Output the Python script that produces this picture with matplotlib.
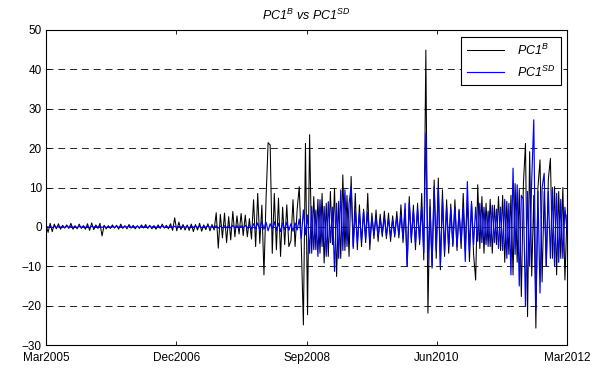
import numpy as np
import matplotlib
matplotlib.use("Agg")
import matplotlib.pyplot as plt
import matplotlib.dates as mdates
from datetime import datetime

# ---- data (~10-day resolution) ----
start_date = datetime(2005, 3, 1)
end_date = datetime(2012, 3, 1)

tick_dates = [datetime(2005, 3, 1), datetime(2006, 12, 1), datetime(2008, 9, 1),
              datetime(2010, 6, 1), datetime(2012, 3, 1)]
tick_labels = ['Mar2005', 'Dec2006', 'Sep2008', 'Jun2010', 'Mar2012']
y_ticks = [-30, -20, -10, 0, 10, 20, 30, 40, 50]

pc1_b = [
    0.6, -1.4, 0.9, -1.2, 0.7, -0.5, 0.8, -0.6, 0.4, -0.3,
    0.5, -0.4, 0.9, -0.6, 0.3, -0.5, 0.7, -0.4, 0.3, -0.6,
    0.8, -0.9, 1.0, -0.7, 0.5, -0.4, 0.9, -2.3, 0.4, -0.5,
    0.3, -0.4, 0.5, -0.3, 0.4, -0.6, 0.7, -0.4, 0.3, -0.5,
    0.6, -0.3, 0.4, -0.5, 0.3, -0.4, 0.5, -0.3, 0.6, -0.4,
    0.4, -0.5, 0.3, -0.6, 0.5, -0.4, 0.7, -0.3, 0.4, -0.5,
    0.8, -0.9, 2.3, -1.0, 1.2, -0.7, 0.6, -0.8, 0.5, -0.9,
    0.7, -1.2, 0.6, -0.8, 0.9, -1.1, 0.5, -0.7, 0.8, -1.0,
    0.6, -0.8, 3.6, -5.4, 3.2, -2.8, 3.5, -4.0, 2.6, -3.3,
    3.9, -2.5, 2.8, -1.8, 3.4, -2.2, 3.0, -2.5, 2.1, -3.1,
    6.9, -5.0, 8.5, -4.2, 5.5, -12.2, 6.9, 21.4, 20.8, -6.7,
    8.5, -5.8, 7.3, -7.5, 5.0, -4.5, 5.6, -5.0, -3.5, 6.9,
    -5.0, 4.5, 10.2, -4.8, -24.9, 21.2, -22.3, 23.4, -6.7, 7.7,
    -5.8, 7.0, -6.7, 8.5, -9.2, 6.0, -7.5, 9.0, -4.5, 9.8,
    -12.6, 6.5, -8.0, 13.2, -6.0, 8.0, -7.5, 12.8, -5.0, 8.5,
    -5.8, 5.6, -5.0, 4.5, -4.0, 8.5, -5.8, 3.5, -3.0, 4.3,
    -3.7, 3.2, -2.5, 4.0, -3.0, 3.5, -3.7, 2.8, -2.6, 3.9,
    -2.8, 5.6, -4.0, 4.5, -10.0, 7.7, -4.0, 5.5, -5.8, 6.0,
    -4.5, 8.5, -8.4, 44.9, -21.9, 7.0, -10.5, 11.9, -8.0, 12.4,
    -10.9, 9.4, -7.5, 6.9, -6.7, 5.8, -5.0, 6.9, -6.0, 4.5,
    -5.5, 8.5, -6.0, 7.0, -8.8, 6.5, -7.0, -13.5, 10.7, -5.5,
    7.7, -6.7, 6.0, -5.0, 7.0, -6.7, 5.5, -4.5, 7.7, -6.0,
    8.0, -9.0, 6.5, -7.0, 8.0, -12.2, 11.0, -9.0, 9.5, -17.7,
    11.0, 21.2, -22.8, 19.1, -12.5, 8.0, -25.7, 10.0, 17.0, -14.0,
    9.0, -10.0, 12.0, 17.4, -8.0, 10.2, -12.2, 9.0, -8.0, 10.0,
    -13.5, 3.0,
]

pc1_sd = [
    0.2, -0.1, 0.15, -0.2, 0.1, -0.15, 0.2, -0.1, 0.1, -0.2,
    0.15, -0.1, 0.2, -0.15, 0.1, -0.2, 0.1, -0.1, 0.2, -0.15,
    0.1, -0.2, 0.15, -0.1, 0.2, -0.1, 0.1, -0.15, 0.2, -0.2,
    0.1, -0.1, 0.15, -0.2, 0.2, -0.1, 0.1, -0.15, 0.15, -0.1,
    0.2, -0.2, 0.1, -0.1, 0.15, -0.15, 0.2, -0.1, 0.1, -0.2,
    0.15, -0.1, 0.2, -0.15, 0.1, -0.1, 0.2, -0.2, 0.1, -0.15,
    0.2, -0.1, 0.15, -0.2, 0.1, -0.15, 0.2, -0.1, 0.1, -0.2,
    0.15, -0.1, 0.2, -0.15, 0.1, -0.2, 0.1, -0.1, 0.2, -0.15,
    0.2, -0.2, 0.3, -0.3, 0.2, -0.3, 0.3, -0.2, 0.3, -0.3,
    0.4, -0.3, 0.3, -0.4, 0.3, -0.3, 0.4, -0.3, 0.5, -0.6,
    0.8, -0.5, 1.0, -0.8, 1.4, -0.6, 1.2, -1.0, 0.8, -0.5,
    1.3, -1.0, 0.9, -1.2, 1.0, -0.7, 1.2, -0.9, 0.8, -1.1,
    1.0, -0.8, 2.0, -3.0, 4.3, -2.0, 3.0, -6.7, 5.2, -5.8,
    4.3, -7.5, 6.9, -5.0, 5.2, -7.5, 6.4, -4.0, 5.0, -11.3,
    6.0, -8.0, 9.4, -6.0, 9.4, -5.0, 6.0, 10.2, -5.5, 4.0,
    -4.0, 3.5, -3.5, 4.0, -3.0, 3.8, -4.0, 2.5, -2.0, 2.5,
    -2.5, 2.0, -1.8, 2.5, -2.2, 2.0, -2.5, 1.8, -2.0, 2.5,
    -2.0, 3.0, -3.0, 6.0, -10.0, 6.0, -3.0, 4.0, -4.0, 4.5,
    -3.5, 5.0, -6.5, 23.8, -9.0, 5.0, -10.0, 10.2, -6.0, 9.8,
    -10.0, 7.0, -6.5, 5.0, -5.0, 4.5, -4.5, 5.0, -5.0, 4.0,
    -4.0, 5.0, -8.8, 11.5, -6.0, 6.0, -4.5, 5.0, -3.7, 6.0,
    -4.0, 5.0, -4.5, 4.0, -5.0, 5.5, -4.0, 4.5, -5.5, 5.0,
    -6.0, 7.0, -8.0, 6.0, -12.2, 14.9, -7.0, 10.7, -15.0, 8.0,
    7.0, -20.2, 9.0, -10.0, 12.0, 27.2, -21.0, 9.0, -16.8, 10.0,
    13.6, -10.0, 9.0, -8.0, 10.0, -10.0, 8.5, -9.0, 7.0, -8.0,
    5.0, -1.0,
]

# ---- style ----
plt.rcParams['font.family'] = ['Liberation Sans', 'DejaVu Sans']
plt.rcParams['mathtext.fontset'] = 'custom'
plt.rcParams['mathtext.it'] = 'Liberation Sans:italic'
plt.rcParams['mathtext.rm'] = 'Liberation Sans:italic'
plt.rcParams['mathtext.default'] = 'it'
plt.rcParams['lines.scale_dashes'] = False

fig = plt.figure(figsize=(6.14, 3.69), dpi=100)
ax = fig.add_axes([46 / 614, 24 / 369, 521 / 614, 315 / 369])

x0 = mdates.date2num(start_date)
x1 = mdates.date2num(end_date)
xb = np.linspace(x0, x1, len(pc1_b))
xs = np.linspace(x0, x1, len(pc1_sd))

ax.plot(xb, pc1_b, color='black', lw=0.75, label=r'$PC1^{B}$')
ax.plot(xs, pc1_sd, color='#0000FF', lw=0.85, label=r'$PC1^{SD}$')

ax.set_xlim(x0, x1)
ax.set_ylim(-30, 50)
ax.set_yticks(y_ticks)
ax.set_xticks([mdates.date2num(d) for d in tick_dates])
ax.set_xticklabels(tick_labels)

ax.yaxis.grid(True, linestyle=(0, (5, 3.5)), linewidth=0.6, color='black')
ax.set_axisbelow(True)

ax.tick_params(direction='in', top=True, right=True, length=3, width=0.6,
               labelsize=8.5)
ax.tick_params(axis='x', pad=5)
ax.tick_params(axis='y', pad=3)
for s in ax.spines.values():
    s.set_linewidth(0.8)

ax.set_title(r'$PC1^{B}\ vs\ PC1^{SD}$', fontsize=9, pad=7)

leg = ax.legend(loc='upper right', bbox_to_anchor=(0.988, 0.978),
                borderaxespad=0, fancybox=False, framealpha=1,
                edgecolor='black', fontsize=9, handlelength=3.0,
                handletextpad=1.0, labelspacing=0.55, borderpad=0.45)
leg.get_frame().set_linewidth(0.8)

fig.savefig('out.png', dpi=100)
